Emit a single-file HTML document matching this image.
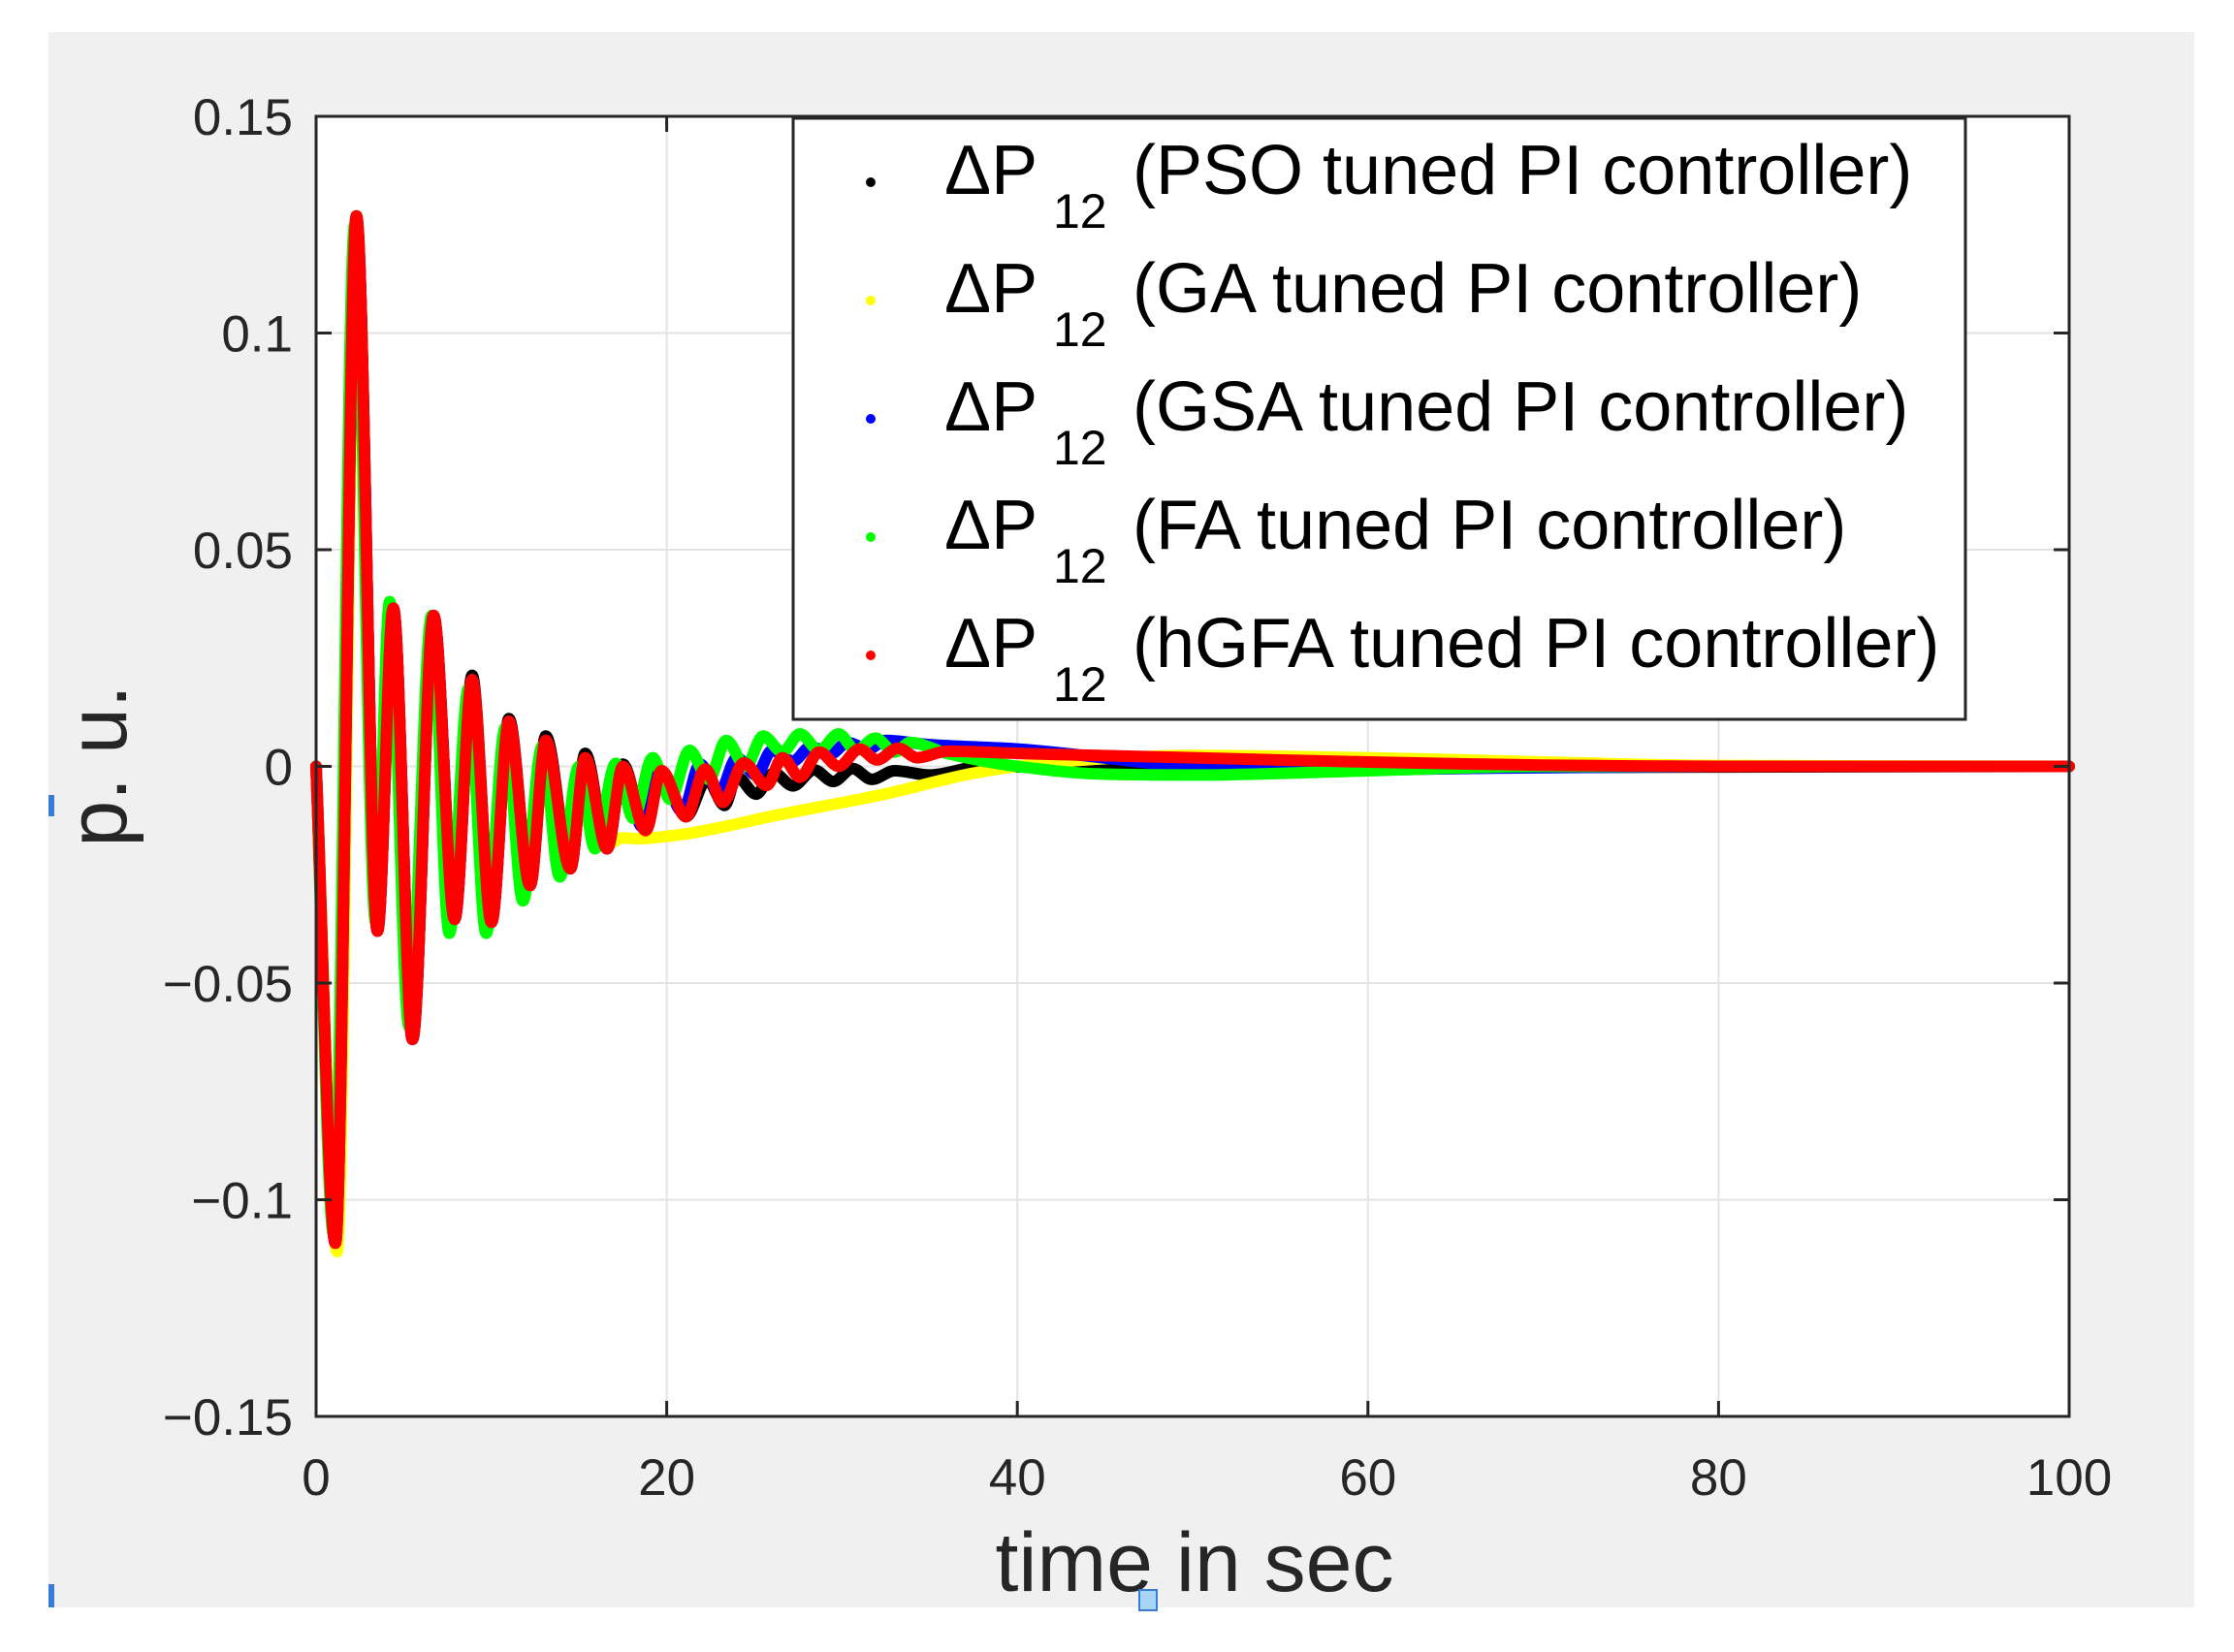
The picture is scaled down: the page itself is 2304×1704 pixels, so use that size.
<!DOCTYPE html>
<html><head><meta charset="utf-8"><style>
html,body{margin:0;padding:0;background:#fff;}
svg{display:block;font-family:"Liberation Sans",Arial,sans-serif;}
</style></head><body>
<svg id="chart" width="2304" height="1704" viewBox="0 0 2304 1704" xmlns="http://www.w3.org/2000/svg">
<rect x="50" y="33" width="2213" height="1625" fill="#f0f0f0"/>
<rect x="326" y="120" width="1808" height="1341" fill="#fff"/>
<g id="grid"></g>
<g id="series"></g>
<g id="axes"></g>
<g id="legend"></g>
<text x="1232" y="1641" font-size="86" text-anchor="middle" fill="#262626">time in sec</text>
<text transform="translate(130,790) rotate(-90)" font-size="86" text-anchor="middle" fill="#262626">p. u.</text>
<rect x="50" y="820" width="6" height="22" fill="#3a7bd5"/>
<rect x="1175" y="1640" width="18" height="21" fill="#a8d4f5" stroke="#3a7bd5" stroke-width="2"/>
<rect x="50" y="1634" width="6" height="24" fill="#3a7bd5"/>
</svg>
<script>
const xTicks = [0, 20, 40, 60, 80, 100];
const yTicks = [0.15, 0.1, 0.05, 0, -0.05, -0.1, -0.15];
const yTickLabels = ["0.15", "0.1", "0.05", "0", "\u22120.05", "\u22120.1", "\u22120.15"];
const seriesNames = ["PSO", "GA", "GSA", "FA", "hGFA"];

const psoT = [0,1.1,2.3,3.5,4.4,5.5,6.7,7.9,8.9,10.0,11.0,12.2,13.1,14.5,15.35,16.6,17.5,18.8,19.7,21.1,22.3,23.3,24.0,25.1,26.1,27.2,28.4,29.5,30.6,31.7,33,35,38,45,60,100];
const psoV = [0,-0.110,0.127,-0.038,0.0365,-0.063,0.0348,-0.0353,0.021,-0.036,0.011,-0.0275,0.007,-0.0236,0.003,-0.019,0.0005,-0.0148,-0.001,-0.0116,-0.003,-0.009,-0.0024,-0.0064,-0.0015,-0.0045,-0.0008,-0.0035,-0.0005,-0.003,-0.001,-0.002,0,-0.0005,-0.0003,0];

const gaT = [0,1.2,2.3,3.5,4.4,5.5,6.7,7.9,8.9,10.0,11.0,12.2,13.1,14.5,15.35,16.6,17.5,18.3,20.3,26.6,32.3,37.6,40,45,50,60,70,80,100];
const gaV = [0,-0.112,0.122,-0.038,0.036,-0.062,0.034,-0.035,0.020,-0.035,0.010,-0.027,0.005,-0.023,0.001,-0.018,-0.0165,-0.0167,-0.016,-0.011,-0.0065,-0.0015,0,0.0018,0.0025,0.002,0.001,0.0002,0];

const gsaT = [0,1.1,2.3,3.5,4.4,5.5,6.7,7.9,8.9,10.0,11.0,12.2,13.1,14.5,15.35,16.6,17.5,18.6,19.6,20.9,21.9,23.0,24.0,25.1,26.0,27.2,28.2,29.4,30.3,31.5,32.5,35,40,50,57,65,80,100];
const gsaV = [0,-0.110,0.126,-0.038,0.0365,-0.063,0.0348,-0.0353,0.020,-0.036,0.0104,-0.0275,0.006,-0.0236,0.002,-0.019,0,-0.014,-0.001,-0.0105,0.0005,-0.006,0.002,-0.002,0.0037,0.0012,0.0045,0.003,0.0055,0.004,0.006,0.005,0.004,0,-0.001,-0.0005,0,0];

const faT = [0,1.0,2.2,3.4,4.2,5.3,6.6,7.6,8.7,9.7,10.8,11.8,12.9,13.9,15.0,15.9,17.1,18.1,19.2,20.2,21.3,22.4,23.4,24.5,25.5,26.6,27.6,28.7,29.8,30.8,31.9,33,33.9,36,40,45,50,60,70,100];
const faV = [0,-0.108,0.125,-0.036,0.038,-0.060,0.0348,-0.0385,0.018,-0.0385,0.009,-0.031,0.0046,-0.0255,0.0,-0.019,0.0007,-0.012,0.002,-0.0076,0.0037,-0.003,0.006,0,0.007,0.0033,0.0075,0.0037,0.0075,0.0037,0.0065,0.0033,0.0055,0.003,0,-0.0018,-0.002,-0.001,0,0];

const hgfaT = [0,1.1,2.3,3.5,4.4,5.5,6.7,7.9,8.9,10.0,11.0,12.2,13.1,14.5,15.35,16.6,17.5,18.8,19.7,21.1,22.2,23.2,24.4,25.7,26.6,27.6,28.7,29.8,31,32,33.2,34.3,36,40,50,60,70,80,100];
const hgfaV = [0,-0.110,0.127,-0.038,0.0365,-0.063,0.0348,-0.0353,0.020,-0.036,0.0104,-0.0275,0.006,-0.0236,0.002,-0.019,0,-0.0148,-0.001,-0.0116,-0.0006,-0.0083,0.0008,-0.0044,0.002,-0.0025,0.0033,0,0.004,0.0015,0.0042,0.002,0.0035,0.003,0.002,0.001,0.0003,0,0];

const L = 326, R = 2134, T = 120, B = 1461;
const xMin = 0, xMax = 100, yMin = -0.15, yMax = 0.15;
function xs(t){ return L + (t - xMin) / (xMax - xMin) * (R - L); }
function ys(v){ return B - (v - yMin) / (yMax - yMin) * (B - T); }
const NS = "http://www.w3.org/2000/svg";
function mk(tag, attrs, parent){ const e = document.createElementNS(NS, tag); for (const k in attrs) e.setAttribute(k, attrs[k]); parent.appendChild(e); return e; }

const grid = document.getElementById('grid');
xTicks.forEach(t => { if (t > xMin && t < xMax) { const l = mk('line', {x1: xs(t), x2: xs(t), y1: T, y2: B, stroke: '#e3e3e3', 'stroke-width': 2}, grid);

 } });
yTicks.forEach(v => { if (v > yMin && v < yMax) { const l = mk('line', {x1: L, x2: R, y1: ys(v), y2: ys(v), stroke: '#e3e3e3', 'stroke-width': 2}, grid);

 } });

function monoPath(T_, V_){
  const n = T_.length, X = T_.map(xs), Y = V_.map(ys);
  const d = [], m = new Array(n).fill(0);
  for (let i = 0; i < n - 1; i++) d.push((Y[i+1] - Y[i]) / (X[i+1] - X[i]));
  m[0] = d[0]; m[n-1] = d[n-2];
  for (let i = 1; i < n - 1; i++) { if (d[i-1] * d[i] <= 0) m[i] = 0; else { const w1 = 2*(X[i+1]-X[i]) + (X[i]-X[i-1]), w2 = (X[i+1]-X[i]) + 2*(X[i]-X[i-1]); m[i] = (w1 + w2) / (w1 / d[i-1] + w2 / d[i]); } }
  let p = 'M' + X[0].toFixed(1) + ',' + Y[0].toFixed(1);
  for (let i = 0; i < n - 1; i++) { const h = (X[i+1] - X[i]) / 3;
    p += ' C' + (X[i]+h).toFixed(1) + ',' + (Y[i]+m[i]*h).toFixed(1) + ' ' + (X[i+1]-h).toFixed(1) + ',' + (Y[i+1]-m[i+1]*h).toFixed(1) + ' ' + X[i+1].toFixed(1) + ',' + Y[i+1].toFixed(1); }
  return p;
}
const sg = document.getElementById('series');
const allSeries = [[psoT, psoV, '#000000'], [gaT, gaV, '#ffff00'], [gsaT, gsaV, '#0000ff'], [faT, faV, '#00ff00'], [hgfaT, hgfaV, '#ff0000']];
allSeries.forEach((s, i) => {
  const p = mk('path', {d: monoPath(s[0], s[1]), fill: 'none', stroke: s[2], 'stroke-width': 12, 'stroke-linejoin': 'round', 'stroke-linecap': 'round'}, sg);
  
  
});

const ax = document.getElementById('axes');
const box = mk('rect', {x: L, y: T, width: R - L, height: B - T, fill: 'none', stroke: '#262626', 'stroke-width': 3}, ax);


xTicks.forEach(t => {
  mk('line', {x1: xs(t), x2: xs(t), y1: B, y2: B - 16, stroke: '#262626', 'stroke-width': 3}, ax);
  mk('line', {x1: xs(t), x2: xs(t), y1: T, y2: T + 16, stroke: '#262626', 'stroke-width': 3}, ax);
  const tx = mk('text', {x: xs(t), y: 1542, 'font-size': 53, 'text-anchor': 'middle', fill: '#262626'}, ax);
  tx.textContent = String(t);
  
  
});
yTicks.forEach((v, i) => {
  mk('line', {x1: L, x2: L + 16, y1: ys(v), y2: ys(v), stroke: '#262626', 'stroke-width': 3}, ax);
  mk('line', {x1: R, x2: R - 16, y1: ys(v), y2: ys(v), stroke: '#262626', 'stroke-width': 3}, ax);
  const tx = mk('text', {x: 302, y: ys(v) + 19, 'font-size': 53, 'text-anchor': 'end', fill: '#262626'}, ax);
  tx.textContent = yTickLabels[i];
  
  
});

const lg = document.getElementById('legend');
const lbox = mk('rect', {x: 818, y: 122, width: 1209, height: 620, fill: '#fff', stroke: '#262626', 'stroke-width': 3}, lg);


allSeries.forEach((s, i) => {
  const by = 200 + i * 122;
  const g = mk('g', {}, lg);
  
  
  mk('circle', {cx: 898, cy: by - 12, r: 5, fill: s[2]}, g);
  const t1 = mk('text', {x: 974, y: by, 'font-size': 72, fill: '#000'}, g); t1.textContent = '\u0394P';
  const t2 = mk('text', {x: 1086, y: by + 35, 'font-size': 50, fill: '#000'}, g); t2.textContent = '12';
  const t3 = mk('text', {x: 1168, y: by, 'font-size': 72, fill: '#000'}, g); t3.textContent = '(' + seriesNames[i] + ' tuned PI controller)';
});
</script>
</body></html>
